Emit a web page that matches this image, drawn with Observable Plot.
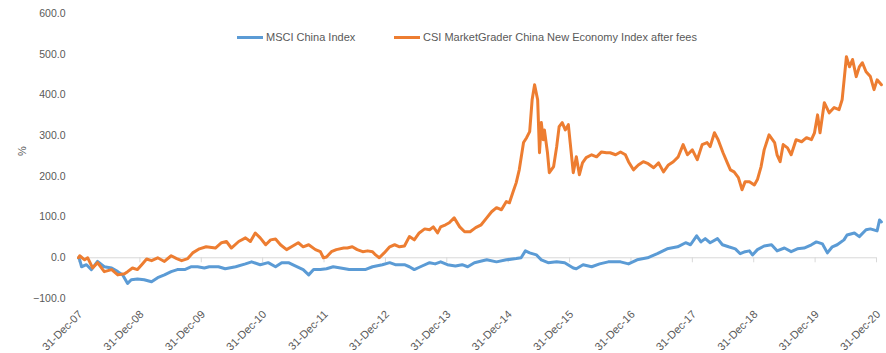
<!DOCTYPE html>
<html>
<head>
<meta charset="utf-8">
<script src="https://cdn.jsdelivr.net/npm/d3@7"></script>
<script src="https://cdn.jsdelivr.net/npm/@observablehq/plot@0.6"></script>
<style>
  body { margin: 0; background: #fff; }
  #wrap { position: relative; width: 886px; height: 353px; font-family: "Liberation Sans", Arial, sans-serif; }
  .leg { position: absolute; top: 30px; display: flex; align-items: center; height: 14px; font-size: 11px; color: #595959; white-space: nowrap; }
  .sw { width: 26px; height: 3px; margin-right: 3px; }
</style>
</head>
<body>
<div id="wrap"><div id="chart"></div></div>
<script>
// ---- data ----
const seriesNames = ["MSCI China Index", "CSI MarketGrader China New Economy Index after fees"];
const seriesColors = ["#5B9BD5", "#ED7D31"];
const tickYears = [2008, 2009, 2010, 2011, 2012, 2013, 2014, 2015, 2016, 2017, 2018, 2019, 2020, 2021];
const tickLabels = ["31-Dec-07", "31-Dec-08", "31-Dec-09", "31-Dec-10", "31-Dec-11", "31-Dec-12", "31-Dec-13",
  "31-Dec-14", "31-Dec-15", "31-Dec-16", "31-Dec-17", "31-Dec-18", "31-Dec-19", "31-Dec-20"];
const yTicks = [-100, 0, 100, 200, 300, 400, 500, 600];

// time as decimal years (2008.00 = 31-Dec-07)
const msciYears = [2008.00, 2008.02, 2008.05, 2008.13, 2008.21, 2008.31, 2008.42, 2008.54, 2008.64, 2008.72, 2008.80, 2008.86, 2008.96,
  2009.07, 2009.19, 2009.29, 2009.40, 2009.51, 2009.61, 2009.73, 2009.84, 2009.94, 2010.05, 2010.13, 2010.28, 2010.39,
  2010.56, 2010.72, 2010.82, 2010.96, 2011.09, 2011.21, 2011.31, 2011.42, 2011.53, 2011.66, 2011.75, 2011.83, 2011.94,
  2012.04, 2012.15, 2012.27, 2012.41, 2012.58, 2012.67, 2012.79, 2012.95, 2013.07, 2013.16, 2013.31, 2013.39, 2013.47,
  2013.57, 2013.72, 2013.81, 2013.90, 2014.01, 2014.14, 2014.25, 2014.34, 2014.45, 2014.65, 2014.81, 2014.97, 2015.13,
  2015.21, 2015.28, 2015.35, 2015.46, 2015.54, 2015.65, 2015.79, 2015.92, 2016.06, 2016.11, 2016.22, 2016.36, 2016.49,
  2016.63, 2016.83, 2016.96, 2017.10, 2017.27, 2017.43, 2017.59, 2017.76, 2017.89, 2017.97, 2018.07, 2018.14, 2018.21,
  2018.29, 2018.41, 2018.49, 2018.59, 2018.70, 2018.78, 2018.86, 2018.93, 2018.98, 2019.06, 2019.17, 2019.29, 2019.38,
  2019.50, 2019.61, 2019.71, 2019.82, 2019.94, 2020.02, 2020.12, 2020.20, 2020.28, 2020.36, 2020.47, 2020.52, 2020.64,
  2020.72, 2020.83, 2020.90, 2021.01, 2021.05, 2021.08];
const msciValues = [0, -5, -22, -17, -29, -9, -22, -25, -34, -42, -63, -54, -52,
  -54, -59, -49, -42, -34, -29, -29, -22, -22, -25, -22, -22, -27,
  -22, -15, -10, -17, -12, -22, -12, -12, -20, -29, -42, -29, -29,
  -27, -22, -25, -29, -29, -29, -22, -17, -12, -17, -17, -22, -29,
  -22, -12, -15, -10, -17, -20, -17, -22, -12, -5, -10, -5, -2,
  0, 17, 12, 7, -5, -12, -10, -12, -25, -27, -17, -22, -15,
  -10, -10, -15, -5, 0, 10, 22, 27, 37, 32, 54, 39, 47,
  37, 47, 32, 27, 22, 10, 15, 17, 7, 20, 29, 32, 17,
  24, 15, 22, 24, 32, 39, 34, 12, 27, 32, 44, 56, 61,
  52, 69, 71, 66, 93, 88];

const csiYears = [2008.00, 2008.02, 2008.10, 2008.15, 2008.23, 2008.31, 2008.42, 2008.54, 2008.64, 2008.75, 2008.80, 2008.88, 2008.96,
  2009.03, 2009.11, 2009.19, 2009.29, 2009.40, 2009.51, 2009.60, 2009.68, 2009.78, 2009.86, 2009.97, 2010.08, 2010.23,
  2010.33, 2010.41, 2010.49, 2010.61, 2010.72, 2010.80, 2010.88, 2010.96, 2011.05, 2011.13, 2011.21, 2011.29, 2011.39,
  2011.47, 2011.58, 2011.66, 2011.75, 2011.86, 2011.94, 2011.99, 2012.04, 2012.12, 2012.20, 2012.32, 2012.38, 2012.46,
  2012.54, 2012.63, 2012.71, 2012.79, 2012.84, 2012.90, 2012.98, 2013.07, 2013.15, 2013.23, 2013.31, 2013.39, 2013.47,
  2013.55, 2013.64, 2013.72, 2013.78, 2013.85, 2013.90, 2013.98, 2014.04, 2014.12, 2014.21, 2014.29, 2014.38, 2014.47,
  2014.56, 2014.65, 2014.73, 2014.81, 2014.89, 2014.97, 2015.02, 2015.08, 2015.13, 2015.18, 2015.25, 2015.30, 2015.35,
  2015.39, 2015.43, 2015.48, 2015.51, 2015.54, 2015.57, 2015.59, 2015.64, 2015.67, 2015.74, 2015.79, 2015.83, 2015.88,
  2015.93, 2015.98, 2016.01, 2016.06, 2016.11, 2016.16, 2016.21, 2016.27, 2016.36, 2016.44, 2016.52, 2016.60, 2016.66,
  2016.75, 2016.83, 2016.91, 2016.96, 2017.04, 2017.12, 2017.20, 2017.28, 2017.37, 2017.45, 2017.53, 2017.61, 2017.69,
  2017.77, 2017.85, 2017.92, 2018.00, 2018.08, 2018.16, 2018.24, 2018.29, 2018.36, 2018.42, 2018.50, 2018.57, 2018.62,
  2018.68, 2018.75, 2018.81, 2018.86, 2018.93, 2019.01, 2019.06, 2019.12, 2019.17, 2019.25, 2019.34, 2019.38, 2019.43,
  2019.48, 2019.55, 2019.61, 2019.69, 2019.78, 2019.86, 2019.94, 2019.99, 2020.04, 2020.08, 2020.15, 2020.23, 2020.31,
  2020.39, 2020.44, 2020.51, 2020.56, 2020.61, 2020.67, 2020.72, 2020.77, 2020.83, 2020.90, 2020.96, 2021.01, 2021.08];
const csiValues = [0, 5, -5, 0, -25, -12, -34, -29, -42, -39, -34, -25, -29,
  -17, -3, -7, 0, -9, 5, -2, -7, -2, 12, 22, 27, 24,
  37, 40, 24, 40, 49, 40, 61, 49, 32, 44, 46, 32, 20,
  27, 37, 27, 32, 20, 15, 0, 2, 15, 20, 24, 24, 27,
  20, 15, 17, 15, 7, 0, 12, 27, 32, 27, 29, 52, 44,
  61, 71, 69, 76, 61, 76, 81, 86, 98, 76, 64, 64, 74,
  81, 98, 113, 123, 118, 138, 135, 162, 184, 216, 283, 295, 310,
  388, 425, 388, 258, 332, 290, 314, 258, 209, 224, 273, 322, 332,
  314, 327, 283, 209, 248, 204, 233, 246, 253, 248, 260, 258, 258,
  253, 260, 253, 236, 216, 228, 236, 231, 221, 233, 211, 228, 236,
  248, 278, 253, 265, 241, 278, 283, 273, 307, 290, 258, 233, 216,
  211, 197, 167, 187, 187, 179, 192, 224, 265, 302, 283, 253, 236,
  278, 270, 253, 290, 285, 295, 290, 307, 351, 307, 381, 356, 369,
  364, 388, 494, 469, 487, 445, 469, 479, 457, 445, 413, 437, 425];

// ---- table for the library ----
const rows = [
  ...msciYears.map((t, i) => ({ series: seriesNames[0], t, v: msciValues[i] })),
  ...csiYears.map((t, i) => ({ series: seriesNames[1], t, v: csiValues[i] }))
];

const chart = Plot.plot({
  width: 886,
  height: 353,
  marginLeft: 78,
  marginRight: 10,
  marginTop: 13,
  marginBottom: 55,
  style: { fontFamily: "'Liberation Sans', Arial, sans-serif", fontSize: "10.5px", color: "#595959", background: "#fff" },
  x: { domain: [2008, 2021], axis: null },
  y: { domain: [-100, 600], ticks: yTicks, tickFormat: d3.format(".1f"), tickSize: 0, tickPadding: 13, label: null },
  color: { domain: seriesNames, range: seriesColors },
  marks: [
    Plot.ruleY([0], { stroke: "#d9d9d9", strokeWidth: 1 }),
    Plot.ruleX(tickYears, { x: d => d, y1: 0, y2: 0, insetBottom: -5, stroke: "#d9d9d9" }),
    Plot.line(rows, { x: "t", y: "v", z: "series", stroke: "series", strokeWidth: 3, strokeLinejoin: "round" }),
    Plot.text(tickYears, { x: d => d, y: -100, text: (d, i) => tickLabels[i], rotate: -45, textAnchor: "end", dx: 2, dy: 14, fill: "#595959", fontSize: 11 }),
    Plot.text(["%"], { frameAnchor: "left", rotate: -90, dx: -56, fill: "#595959", fontSize: 11 })
  ]
});
document.getElementById("chart").appendChild(chart);

// ---- legend overlay ----
const legendLeft = [237, 394];
const wrap = document.getElementById("wrap");
seriesNames.forEach((name, i) => {
  const item = document.createElement("div");
  item.className = "leg";
  item.style.left = legendLeft[i] + "px";
  const sw = document.createElement("div");
  sw.className = "sw";
  sw.style.background = seriesColors[i];
  const tx = document.createElement("span");
  tx.textContent = name;
  item.appendChild(sw);
  item.appendChild(tx);
  wrap.appendChild(item);
});
</script>
</body>
</html>
